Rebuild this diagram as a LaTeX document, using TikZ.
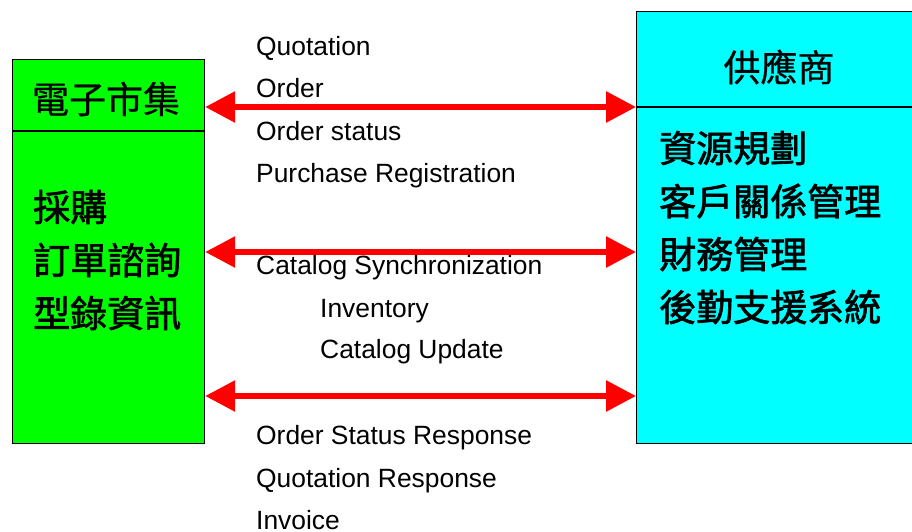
\documentclass[tikz,border=0pt]{standalone}
\usepackage{fontspec}
\setmainfont{Liberation Sans}
\newfontfamily\cjk[FakeBold=0.6]{Noto Sans CJK TC}
\newfontfamily\cjkb[FakeBold=1.8]{Noto Sans CJK TC}
\usetikzlibrary{arrows.meta}
\definecolor{mkgreen}{RGB}{0,255,0}
\definecolor{mkcyan}{RGB}{0,255,255}
\definecolor{mkred}{RGB}{255,0,0}
\tikzset{
  boxstyle/.style={draw=black, line width=1.2pt, inner sep=0pt, anchor=north west},
  latin/.style={anchor=base west, inner sep=0pt, font=\fontsize{26.4}{30}\selectfont},
  cjktitle/.style={inner sep=0pt, font=\fontsize{37}{40}\cjk},
  cjkbody/.style={anchor=west, inner sep=0pt, font=\fontsize{37}{40}\cjkb},
  link/.style={draw=mkred, line width=6pt, {Triangle[length=30pt,width=30pt]}-{Triangle[length=30pt,width=30pt]}}
}
\begin{document}
\begin{tikzpicture}[x=1pt,y=-1pt]
\useasboundingbox (0,0) rectangle (912,531);
\clip (0,0) rectangle (912,531);
% left box
\node[boxstyle, fill=mkgreen, minimum width=192pt, minimum height=384pt] (lbox) at (12,59) {};
\draw[line width=1.2pt] (lbox.north west |- 0,131) -- (lbox.north east |- 0,131);
\node[cjktitle] (ltitle) at (106,99) {電子市集};
\node[cjkbody] (l1) at (33,207) {採購};
\node[cjkbody] (l2) at (33,260) {訂單諮詢};
\node[cjkbody] (l3) at (33,313) {型錄資訊};
% right box
\node[boxstyle, fill=mkcyan, minimum width=286pt, minimum height=432pt] (rbox) at (636,11) {};
\draw[line width=1.2pt] (rbox.north west |- 0,107) -- (rbox.north east |- 0,107);
\node[cjktitle] (rtitle) at (779,67) {供應商};
\node[cjkbody] (r1) at (659,148) {資源規劃};
\node[cjkbody] (r2) at (659,201) {客戶關係管理};
\node[cjkbody] (r3) at (659,254) {財務管理};
\node[cjkbody] (r4) at (659,307) {後勤支援系統};
% connection points
\coordinate (la) at (lbox.east |- 0,107);
\coordinate (ra) at (rbox.west |- 0,107);
\coordinate (lb) at (lbox.east |- 0,252);
\coordinate (rb) at (rbox.west |- 0,252);
\coordinate (lc) at (lbox.east |- 0,396);
\coordinate (rc) at (rbox.west |- 0,396);
\draw[link] (la) -- (ra);
\draw[link] (lb) -- (rb);
\draw[link] (lc) -- (rc);
% labels
\node[latin] (t1) at (256,55) {Quotation};
\node[latin] (t2) at (256,97) {Order};
\node[latin] (t3) at (256,140) {Order status};
\node[latin] (t4) at (256,182) {Purchase Registration};
\node[latin] (t5) at (256,274) {Catalog Synchronization};
\node[latin] (t6) at (320,317) {Inventory};
\node[latin] (t7) at (320,358) {Catalog Update};
\node[latin] (t8) at (256,444) {Order Status Response};
\node[latin] (t9) at (256,487) {Quotation Response};
\node[latin] (t10) at (256,529) {Invoice};
\end{tikzpicture}
\end{document}
